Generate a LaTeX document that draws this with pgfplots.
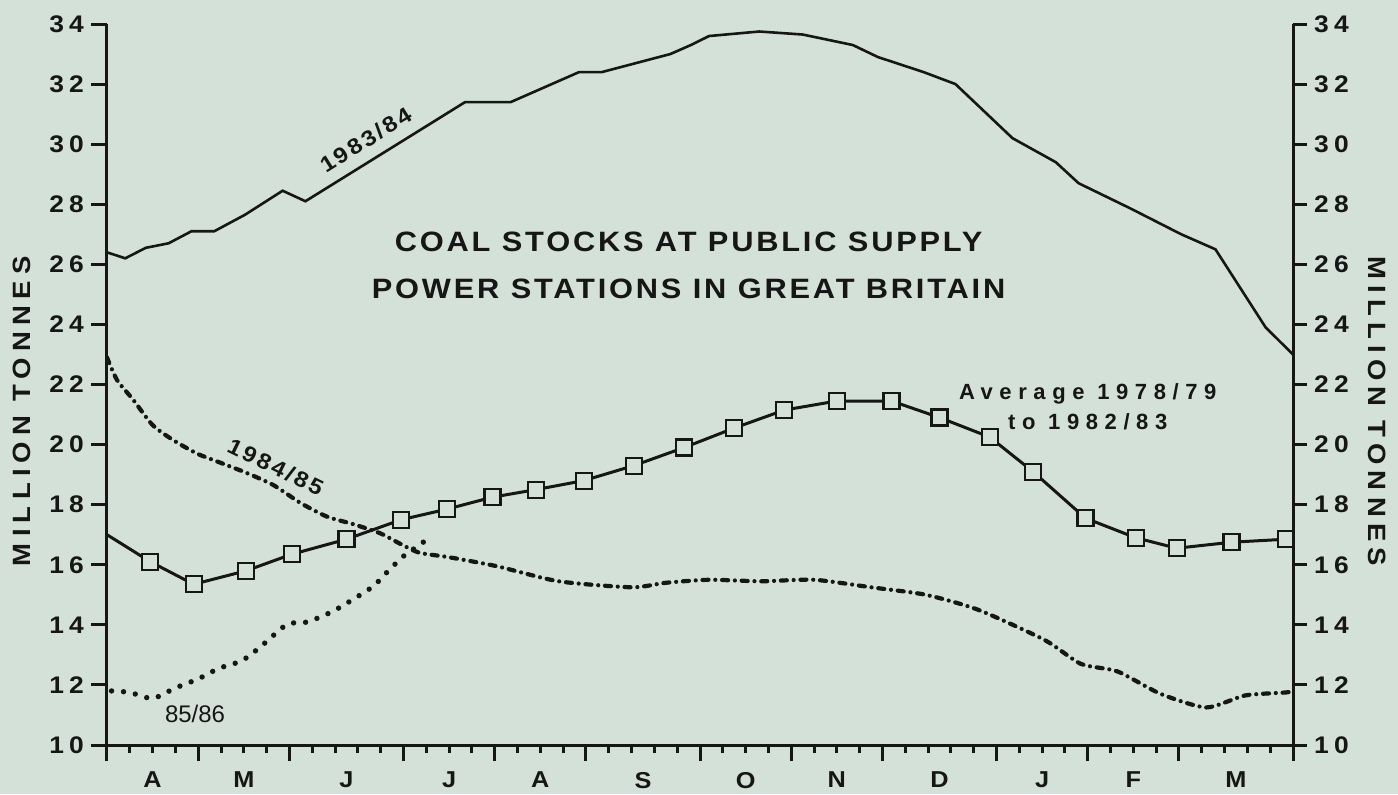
\documentclass[border=0pt]{standalone}
\usepackage{fontspec}
\setmainfont{Liberation Sans}[FakeStretch=1.1, LetterSpace=12]
\newfontfamily\titlefont{Liberation Sans}[FakeStretch=1.1, LetterSpace=10]
\newfontfamily\tickfont{Liberation Sans}[FakeStretch=1.1, LetterSpace=22]
\newfontfamily\labfont{Liberation Sans}[FakeStretch=1.1, LetterSpace=25]
\newfontfamily\plainfont{Liberation Sans}
\newfontfamily\avgfont{Liberation Sans}[LetterSpace=30]
\usepackage{pgfplots}
\pgfplotsset{compat=1.18}
\definecolor{paper}{RGB}{212,225,216}
\definecolor{ink}{RGB}{22,22,22}

\begin{document}
\begin{tikzpicture}
\fill[paper] (-53.5pt,-24.5pt) rectangle (645.5pt,372.5pt);
\begin{axis}[
  at={(0pt,0pt)}, anchor=south west,
  scale only axis, width=593pt, height=360.5pt,
  xmin=0, xmax=52, ymin=10, ymax=34,
  clip=false,
  axis x line*=bottom, axis y line*=left,
  axis line style={line width=1.5pt, ink},
  tick align=outside,
  tick style={ink, line width=1.5pt},
  major tick length=8pt, minor tick length=4pt,
  xtick={0,4,8,13,17,21,26,30,34,39,43,47,52},
  xticklabels={},
  minor xtick={1,...,51},
  extra x ticks={2,6,10.5,15,19,23.5,28,32,36.5,41,45,49.5},
  extra x tick labels={A,M,J,J,A,S,O,N,D,J,F,M},
  extra x tick style={major tick length=0pt, tick label style={yshift=-10pt}},
  x tick label style={font=\bfseries\fontsize{11.5}{12}\selectfont, ink},
  ytick={10,12,...,34},
  /pgf/number format/assume math mode=true,
  y tick label style={font=\tickfont\bfseries\fontsize{12}{12}\selectfont, ink},
  ylabel={MILLION TONNES},
  ylabel style={at={(axis description cs:-0.0717,0.463)}, anchor=center, font=\labfont\bfseries\fontsize{12.5}{13}\selectfont, ink},
]
% 1983/84
\addplot[ink, line width=1.3pt] coordinates {
(0,26.4)(0.8,26.2)(1.7,26.55)(2.7,26.7)(3.7,27.1)(4.7,27.1)(6.05,27.65)(7.7,28.45)(8.7,28.1)
(15.7,31.4)(17.7,31.4)(20.7,32.4)(21.7,32.4)(24.7,33.0)(25.6,33.3)(26.4,33.6)(28.6,33.75)
(30.5,33.65)(32.7,33.3)(33.8,32.9)(35.8,32.4)(37.2,32.0)(39.7,30.2)(41.6,29.4)(42.6,28.7)
(44.9,27.85)(47.1,27.0)(48.6,26.5)(49.7,25.2)(50.8,23.9)(52,23.0)};
% 1984/85
\addplot[ink, line width=2.1pt, line cap=round, dash pattern=on 3pt off 3.4pt on 0pt off 3.4pt, smooth, tension=0.4] coordinates {
(0,22.9)(0.44,22.15)(1.14,21.5)(2.0,20.65)(2.9,20.15)(3.95,19.7)(4.96,19.4)(6.14,19.05)
(7.3,18.65)(8.5,18.05)(9.65,17.6)(10.8,17.35)(11.97,17.05)(12.85,16.7)(13.7,16.4)(15.0,16.25)
(17.1,15.95)(19.8,15.45)(23.0,15.25)(24.5,15.4)(26.4,15.5)(28.7,15.45)(31.0,15.5)(33.5,15.25)
(35.9,15.0)(38.2,14.5)(41.1,13.5)(42.7,12.7)(44.3,12.45)(46.2,11.7)(48.2,11.25)(49.9,11.65)
(51.7,11.75)(52,11.8)};
% 1985/86
\addplot[ink, line width=2.7pt, line cap=round, dash pattern=on 0pt off 6pt, smooth, tension=0.4] coordinates {
(0.2,11.8)(1.0,11.75)(2.0,11.55)(3.0,11.9)(4.0,12.2)(4.9,12.55)(5.9,12.8)(6.7,13.25)
(7.6,13.85)(8.0,14.05)(8.8,14.1)(9.9,14.45)(10.9,14.9)(11.7,15.3)(12.4,15.85)(13.1,16.35)
(13.7,16.65)(14.1,16.9)};
% Average 1978/79 to 1982/83
\addplot[ink, line width=1.5pt, mark=square*, mark size=4pt, mark indices={2,...,25},
  mark options={fill=paper, draw=ink, line width=1.1pt}] coordinates {
(0,17.0)(1.9,16.1)(3.8,15.35)(6.1,15.8)(8.1,16.35)(10.5,16.85)(12.9,17.5)(14.9,17.85)
(16.9,18.25)(18.8,18.5)(20.9,18.8)(23.1,19.3)(25.3,19.9)(27.5,20.55)(29.7,21.15)(32.0,21.45)
(34.4,21.45)(36.5,20.9)(38.7,20.25)(40.6,19.1)(42.9,17.55)(45.1,16.9)(46.9,16.55)(49.3,16.75)
(51.7,16.85)};

\node[ink, rotate=32, font=\bfseries\fontsize{11}{12}\selectfont] at (axis cs:11.35,30.15) {1983/84};
\node[ink, rotate=-26, font=\bfseries\fontsize{11}{12}\selectfont] at (axis cs:7.4,19.25) {1984/85};
\node[ink, font=\plainfont\fontsize{12}{12}\selectfont] at (axis cs:3.86,11.05) {85/86};
\node[ink, align=center, font=\avgfont\bfseries\fontsize{11}{15}\selectfont] at (axis cs:43.0,21.25) {Average 1978/79\\to 1982/83};
\node[ink, align=center, font=\titlefont\bfseries\fontsize{14}{23.5}\selectfont] at (axis cs:25.5,25.95) {COAL STOCKS AT PUBLIC SUPPLY\\POWER STATIONS IN GREAT BRITAIN};
\end{axis}
\begin{axis}[
  at={(0pt,0pt)}, anchor=south west,
  scale only axis, width=593pt, height=360.5pt,
  xmin=0, xmax=52, ymin=10, ymax=34,
  axis x line=none, axis y line*=right,
  axis line style={line width=1.5pt, ink},
  tick align=outside,
  tick style={ink, line width=1.5pt},
  major tick length=7pt,
  ytick={10,12,...,34},
  /pgf/number format/assume math mode=true,
  y tick label style={font=\tickfont\bfseries\fontsize{12}{12}\selectfont, ink},
  ylabel={MILLION TONNES},
  ylabel style={at={(axis description cs:1.0708,0.463)}, anchor=center, rotate=180, font=\labfont\bfseries\fontsize{12.5}{13}\selectfont, ink},
]
\end{axis}
\pgfresetboundingbox
\useasboundingbox (-53.5pt,-24.5pt) rectangle (645.5pt,372.5pt);
\end{tikzpicture}
\end{document}
